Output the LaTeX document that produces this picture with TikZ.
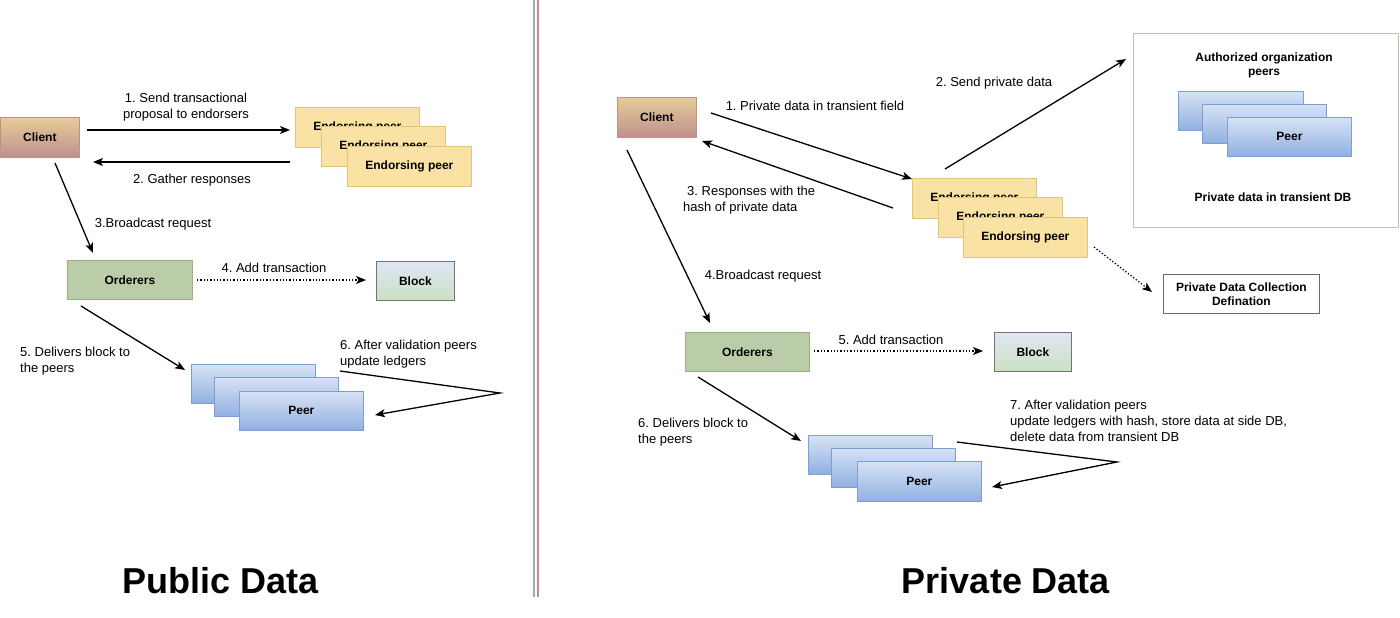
\documentclass[tikz,border=0pt]{standalone}
\usepackage{fontspec}
\setmainfont{Liberation Sans}
\usetikzlibrary{calc,arrows.meta}
\frenchspacing
\definecolor{epfill}{RGB}{250,226,165}
\definecolor{epdraw}{RGB}{224,198,125}
\definecolor{ordfill}{RGB}{187,205,168}
\definecolor{orddraw}{RGB}{150,178,128}
\definecolor{peertop}{RGB}{214,226,245}
\definecolor{peerbot}{RGB}{145,176,224}
\definecolor{peerdraw}{RGB}{125,158,212}
\definecolor{clitop}{RGB}{230,204,152}
\definecolor{clibot}{RGB}{192,144,140}
\definecolor{blktop}{RGB}{222,230,245}
\definecolor{blkbot}{RGB}{205,224,195}
\definecolor{blkdraw}{RGB}{115,115,115}
\definecolor{authdraw}{RGB}{205,188,178}
\definecolor{pdcdraw}{RGB}{105,105,105}
\definecolor{divA}{RGB}{160,170,190}
\definecolor{divB}{RGB}{198,138,138}
\begin{document}
\begin{tikzpicture}[x=1pt,y=-1pt,
  lbl/.style={font=\fontsize{13}{16}\selectfont, inner sep=0pt},
  blbl/.style={font=\bfseries\fontsize{12}{14}\selectfont, inner sep=0pt, align=center},
  ttl/.style={font=\bfseries\fontsize{36}{40}\selectfont, inner sep=0pt},
  box/.style={anchor=north west, inner sep=0pt, font=\bfseries\fontsize{12}{14}\selectfont, line width=0.8pt},
  clibox/.style={box, top color=clitop, bottom color=clibot, draw=clibot, minimum width=79pt, minimum height=40pt},
  epbox/.style={box, fill=epfill, draw=epdraw, minimum width=124pt, minimum height=40pt},
  peerbox/.style={box, top color=peertop, bottom color=peerbot, draw=peerdraw, minimum width=124pt, minimum height=39pt},
  ordbox/.style={box, fill=ordfill, draw=orddraw, minimum width=125pt, minimum height=39pt},
  blkbox/.style={box, top color=blktop, bottom color=blkbot, draw=blkdraw, minimum width=78pt, minimum height=39pt},
  arr/.style={line width=1.3pt, -{Stealth[length=10pt,width=8pt,inset=2.5pt]}},
  dotarr/.style={arr, dash pattern=on 1.3pt off 2pt},
]
\fill[white] (0,0) rectangle (1400,618);
\useasboundingbox (0,0) rectangle (1400,618);

% divider
\draw[line width=1.3pt, divA] (534,0) -- (534,597);
\draw[line width=2pt, divB] (537.5,0) -- (537.5,597);

% ================= LEFT: Public Data =================
\node[clibox] (clientL) at (0,117) {Client};
\node[epbox] (epL1) at (295,107) {Endorsing peer};
\node[epbox] (epL2) at (321,126) {Endorsing peer};
\node[epbox] (epL3) at (347,146) {Endorsing peer};
\node[ordbox] (ordL) at (67,260) {Orderers};
\node[blkbox] (blkL) at (376,261) {Block};
\node[peerbox] (peerL1) at (191,364) {};
\node[peerbox] (peerL2) at (214,377) {};
\node[peerbox] (peerL3) at (239,391) {Peer};

\node[lbl, align=center] (l1) at (186,107) {1. Send transactional\\proposal to endorsers};
\node[lbl] (l2) at (192,180) {2. Gather responses};
\node[lbl] (l3) at (153,224) {3.Broadcast request};
\node[lbl] (l4) at (274,268) {4. Add transaction};
\node[lbl, align=left, anchor=west] (l5) at (20,361) {5. Delivers block to\\the peers};
\node[lbl, align=left, anchor=west] (l6) at (340,354) {6. After validation peers\\update ledgers};
\node[ttl] (tL) at (221,581) {Public Data};

\draw[arr] ($(clientL.north west)+(87,13)$) -- ($(epL1.north west)+(-5,23)$);
\draw[arr] ($(epL1.north west)+(-5,55)$) -- ($(clientL.north west)+(93,45)$);
\draw[arr] ($(clientL.north west)+(55,46)$) -- ($(ordL.north west)+(26,-7)$);
\draw[dotarr] ($(ordL.north west)+(130,20)$) -- ($(blkL.north west)+(-10,19)$);
\draw[arr] ($(ordL.north west)+(14,46)$) -- ($(peerL1.north west)+(-6,6)$);
\coordinate (turnL) at (500,393);
\draw[arr] ($(peerL1.north west)+(149,7)$) -- (turnL) -- ($(peerL3.north west)+(136,24)$);

% ================= RIGHT: Private Data =================
\node[box, draw=authdraw, line width=0.8pt, minimum width=265pt, minimum height=194pt] (auth) at (1133,33) {};
\node[clibox] (clientR) at (617,97) {Client};
\node[epbox] (epR1) at (912,178) {Endorsing peer};
\node[epbox] (epR2) at (938,197) {Endorsing peer};
\node[epbox] (epR3) at (963,217) {Endorsing peer};
\node[peerbox, minimum width=125pt] (peerA1) at (1178,91) {};
\node[peerbox] (peerA2) at (1202,104) {};
\node[peerbox] (peerA3) at (1227,117) {Peer};
\node[blbl] (authT) at (1264,65) {Authorized organization\\peers};
\node[blbl] (authB) at (1273,197) {Private data in transient DB};
\node[box, draw=pdcdraw, fill=white, minimum width=156pt, minimum height=39pt, align=center] (pdc) at (1163,274) {Private Data Collection\\Defination};
\node[ordbox, minimum width=124pt] (ordR) at (685,332) {Orderers};
\node[blkbox, minimum width=77pt] (blkR) at (994,332) {Block};
\node[peerbox] (peerR1) at (808,435) {};
\node[peerbox] (peerR2) at (831,448) {};
\node[peerbox, minimum height=40pt] (peerR3) at (857,461) {Peer};

\node[lbl] (r1) at (815,106) {1. Private data in transient field};
\node[lbl] (r2) at (994,83) {2. Send private data};
\node[lbl, align=left, anchor=west] (r3) at (683,200.5) {\hspace*{4pt}3. Responses with the\\hash of private data};
\node[lbl] (r4) at (763,276) {4.Broadcast request};
\node[lbl] (r5) at (891,340) {5. Add transaction};
\node[lbl, align=left, anchor=west] (r6) at (638,432) {6. Delivers block to\\the peers};
\node[lbl, align=left, anchor=west] (r7) at (1010,421) {7. After validation peers\\update ledgers with hash, store data at side DB,\\delete data from transient DB};
\node[ttl] (tR) at (1006,581) {Private Data};

\draw[arr] ($(clientR.north west)+(94,16)$) -- ($(epR1.north west)+(0,1)$);
\draw[arr] ($(epR1.north west)+(-19,30)$) -- ($(clientR.north west)+(85,44)$);
\draw[arr] ($(epR1.north west)+(33,-9)$) -- ($(auth.north west)+(-7,26)$);
\draw[arr] ($(clientR.north west)+(10,53)$) -- ($(ordR.north west)+(25,-9)$);
\draw[dotarr] ($(epR3.north west)+(131,30)$) -- ($(pdc.north west)+(-11,18)$);
\draw[dotarr] ($(ordR.north west)+(129,19)$) -- ($(blkR.north west)+(-11,19)$);
\draw[arr] ($(ordR.north west)+(13,45)$) -- ($(peerR1.north west)+(-7,6)$);
\coordinate (turnR) at (1117,462);
\draw[arr] ($(peerR1.north west)+(149,7)$) -- (turnR) -- ($(peerR3.north west)+(135,26)$);
\end{tikzpicture}
\end{document}
